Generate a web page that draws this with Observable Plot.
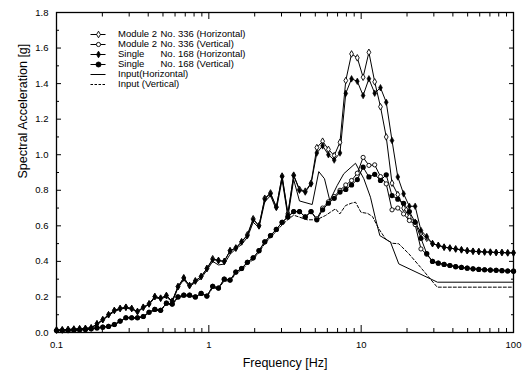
<!DOCTYPE html>
<html><head><meta charset="utf-8">
<script src="https://cdn.jsdelivr.net/npm/d3@7"></script>
<script src="https://cdn.jsdelivr.net/npm/@observablehq/plot@0.6"></script>
<style>
body{margin:0;background:#fff;}
#wrap{position:relative;width:522px;height:376px;font-family:"Liberation Sans",Arial,sans-serif;}
#legend{position:absolute;left:89px;top:28.6px;font-size:9.5px;color:#000;}
.row{height:10.1px;line-height:10.1px;white-space:nowrap;display:flex;align-items:center;}
.row svg{flex:none;display:block;}
.row .t{margin-left:11px;}
.w1{display:inline-block;width:42.5px;}
</style></head>
<body><div id="wrap"><div id="legend"></div></div>
<script>
// Frequency grid (Hz) of the marked response spectra
const freq = [0.1,0.1091,0.1191,0.1300,0.1418,0.1548,0.1689,0.1844,0.2012,0.2196,
0.2397,0.2616,0.2855,0.3116,0.3401,0.3712,0.4051,0.4421,0.4826,0.5267,
0.5748,0.6274,0.6847,0.7473,0.8156,0.8901,0.9713,1.060,1.157,1.263,
1.378,1.504,1.641,1.791,1.955,2.134,2.329,2.541,2.774,3.027,
3.304,3.606,3.936,4.295,4.688,5.117,5.584,6.095,6.652,7.260,
7.924,8.648,9.434,10.30,11.24,12.27,13.39,14.61,15.94,17.40,
18.99,20.72,22.62,24.69,26.94,29.40,32.09,35.03,38.23,41.72,
45.53,49.69,54.23,59.19,64.60,70.50,76.94,83.97,91.64,100];

const singleH = [0.014,0.015,0.017,0.019,0.021,0.023,0.026,0.049,0.072,0.100,
0.124,0.135,0.142,0.135,0.118,0.142,0.161,0.202,0.193,0.208,
0.176,0.258,0.307,0.264,0.290,0.315,0.360,0.410,0.405,0.400,
0.460,0.475,0.510,0.545,0.635,0.600,0.750,0.780,0.705,0.877,
0.664,0.883,0.800,0.790,0.836,1.010,1.050,1.000,0.970,1.010,
1.345,1.427,1.413,1.333,1.427,1.346,1.377,1.295,1.080,0.875,
0.780,0.710,0.710,0.574,0.540,0.500,0.490,0.480,0.475,0.470,
0.465,0.460,0.457,0.455,0.453,0.452,0.450,0.450,0.448,0.448];

const moduleH = [0.014,0.015,0.017,0.019,0.021,0.023,0.026,0.049,0.072,0.100,
0.124,0.135,0.142,0.135,0.118,0.142,0.161,0.202,0.193,0.208,
0.176,0.258,0.307,0.264,0.290,0.315,0.360,0.415,0.405,0.400,
0.460,0.475,0.510,0.550,0.640,0.600,0.755,0.785,0.705,0.880,
0.670,0.885,0.805,0.795,0.840,1.040,1.076,1.030,0.995,1.070,
1.417,1.567,1.545,1.436,1.576,1.410,1.270,1.100,0.840,0.776,
0.700,0.650,0.620,0.560,0.530,0.500,0.490,0.480,0.475,0.470,
0.465,0.460,0.457,0.455,0.453,0.452,0.450,0.450,0.448,0.448];

const singleV = [0.011,0.011,0.011,0.013,0.015,0.017,0.021,0.026,0.030,0.034,
0.045,0.064,0.083,0.083,0.083,0.090,0.114,0.130,0.125,0.165,
0.160,0.200,0.210,0.210,0.200,0.220,0.205,0.260,0.250,0.300,
0.295,0.340,0.360,0.395,0.420,0.460,0.510,0.545,0.580,0.620,
0.650,0.680,0.680,0.650,0.680,0.634,0.690,0.727,0.755,0.790,
0.805,0.830,0.860,0.930,0.875,0.890,0.855,0.887,0.770,0.750,
0.727,0.680,0.620,0.530,0.444,0.400,0.390,0.383,0.377,0.370,
0.366,0.362,0.358,0.355,0.353,0.351,0.350,0.348,0.346,0.345];

const moduleV = [0.011,0.011,0.011,0.013,0.015,0.017,0.021,0.026,0.030,0.034,
0.045,0.064,0.083,0.083,0.083,0.090,0.114,0.130,0.125,0.165,
0.160,0.200,0.210,0.210,0.200,0.220,0.205,0.260,0.250,0.300,
0.295,0.340,0.360,0.395,0.420,0.460,0.510,0.545,0.580,0.620,
0.650,0.680,0.680,0.650,0.680,0.640,0.700,0.735,0.765,0.800,
0.830,0.855,0.896,0.985,0.940,0.943,0.877,0.836,0.690,0.700,
0.667,0.630,0.607,0.470,0.440,0.400,0.390,0.383,0.377,0.370,
0.366,0.362,0.358,0.355,0.353,0.351,0.350,0.348,0.346,0.345];

// Input spectra (lines without markers)
const inputHFreq = [0.1,0.1091,0.1191,0.1300,0.1418,0.1548,0.1689,0.1844,0.2012,0.2196,
0.2397,0.2616,0.2855,0.3116,0.3401,0.3712,0.4051,0.4421,0.4826,0.5267,
0.5748,0.6274,0.6847,0.7473,0.8156,0.8901,0.9713,1.060,1.157,1.263,
1.378,1.504,1.641,1.791,1.955,2.134,2.329,2.541,2.774,3.027,
3.304,3.606,3.936,4.77,5.27,5.745,6.225,6.96,7.69,9.18,
10.41,11.51,12.42,13.26,15.58,17.66,31.7,100];
const inputH = [0.013,0.014,0.016,0.018,0.020,0.022,0.025,0.045,0.068,0.095,
0.118,0.130,0.138,0.130,0.115,0.138,0.158,0.195,0.190,0.200,
0.172,0.250,0.298,0.258,0.282,0.305,0.350,0.400,0.380,0.385,
0.440,0.470,0.495,0.535,0.620,0.590,0.735,0.770,0.690,0.860,
0.650,0.860,0.740,0.720,0.905,0.865,0.742,0.827,0.893,0.952,
0.865,0.761,0.640,0.545,0.508,0.386,0.283,0.283];

const inputVFreq = [0.1,0.1091,0.1191,0.1300,0.1418,0.1548,0.1689,0.1844,0.2012,0.2196,
0.2397,0.2616,0.2855,0.3116,0.3401,0.3712,0.4051,0.4421,0.4826,0.5267,
0.5748,0.6274,0.6847,0.7473,0.8156,0.8901,0.9713,1.060,1.157,1.263,
1.378,1.504,1.641,1.791,1.955,2.134,2.329,2.541,2.774,3.027,
3.304,3.606,4.42,5.09,5.83,6.785,7.24,7.895,8.605,9.18,
9.975,11.01,11.87,13.06,14.45,15.99,17.66,20.55,24.53,31.56,100];
const inputV = [0.010,0.010,0.010,0.012,0.014,0.016,0.020,0.024,0.028,0.032,
0.043,0.060,0.080,0.080,0.080,0.088,0.110,0.126,0.122,0.160,
0.156,0.195,0.205,0.205,0.196,0.215,0.200,0.252,0.245,0.292,
0.288,0.332,0.352,0.385,0.410,0.450,0.500,0.535,0.570,0.605,
0.635,0.660,0.634,0.634,0.658,0.696,0.667,0.714,0.727,0.733,
0.676,0.670,0.652,0.583,0.527,0.502,0.499,0.443,0.367,0.255,0.255];

// Ticks and labels
const xMajor = [0.1, 1, 10, 100];
const xTickLabels = ["0.1", "1", "10", "100"];
const xMinor = [0.2,0.3,0.4,0.5,0.6,0.7,0.8,0.9,2,3,4,5,6,7,8,9,20,30,40,50,60,70,80,90];
const yMajor = [0, 0.2, 0.4, 0.6, 0.8, 1.0, 1.2, 1.4, 1.6, 1.8];
const yTickLabels = ["0.0","0.2","0.4","0.6","0.8","1.0","1.2","1.4","1.6","1.8"];
const yMinor = [0.1, 0.3, 0.5, 0.7, 0.9, 1.1, 1.3, 1.5, 1.7];

const legendName = ["Module 2", "Module 2", "Single", "Single", "Input(Horizontal)", "Input (Vertical)"];
const legendDetail = ["No. 336 (Horizontal)", "No. 336 (Vertical)", "No. 168 (Horizontal)", "No. 168 (Vertical)", "", ""];

const toRows = (fs, vs) => fs.map((f, i) => ({f, v: vs[i]}));
const dSH = toRows(freq, singleH), dMH = toRows(freq, moduleH);
const dSV = toRows(freq, singleV), dMV = toRows(freq, moduleV);
const dIH = toRows(inputHFreq, inputH), dIV = toRows(inputVFreq, inputV);

const noText = () => "";
const chart = Plot.plot({
  width: 522, height: 376,
  marginLeft: 56, marginRight: 9, marginTop: 12, marginBottom: 44,
  x: {type: "log", domain: [0.1, 100]},
  y: {domain: [0, 1.8]},
  style: {fontFamily: "Liberation Sans, Arial, sans-serif", fontSize: "9.5px", color: "#000", background: "#fff"},
  marks: [
    Plot.line(dIH, {x: "f", y: "v", stroke: "#000", strokeWidth: 1}),
    Plot.line(dIV, {x: "f", y: "v", stroke: "#000", strokeWidth: 1, strokeDasharray: "3,2"}),
    Plot.line(dMH, {x: "f", y: "v", stroke: "#000", strokeWidth: 1}),
    Plot.line(dMV, {x: "f", y: "v", stroke: "#000", strokeWidth: 1}),
    Plot.line(dSH, {x: "f", y: "v", stroke: "#000", strokeWidth: 1}),
    Plot.line(dSV, {x: "f", y: "v", stroke: "#000", strokeWidth: 1}),
    Plot.dot(dMH, {x: "f", y: "v", symbol: "diamond", r: 2, fill: "#fff", stroke: "#000", strokeWidth: 0.9}),
    Plot.dot(dMV, {x: "f", y: "v", symbol: "circle", r: 2.1, fill: "#fff", stroke: "#000", strokeWidth: 0.9}),
    Plot.dot(dSH, {x: "f", y: "v", symbol: "diamond", r: 2, fill: "#000", stroke: "#000", strokeWidth: 0.6}),
    Plot.dot(dSV, {x: "f", y: "v", symbol: "circle", r: 2.6, fill: "#000"}),
    Plot.frame({stroke: "#000", strokeWidth: 1.3}),
    Plot.axisY({ticks: yMajor, anchor: "left", tickSize: -5, tickPadding: 13, tickFormat: d => yTickLabels[yMajor.indexOf(d)], label: null}),
    Plot.axisY({ticks: yMinor, anchor: "left", tickSize: -3, tickFormat: noText, label: null}),
    Plot.axisY({ticks: yMajor, anchor: "right", tickSize: -5, tickFormat: noText, label: null}),
    Plot.axisY({ticks: yMinor, anchor: "right", tickSize: -3, tickFormat: noText, label: null}),
    Plot.axisX({ticks: xMajor, anchor: "bottom", tickSize: -7, tickPadding: 16, tickFormat: d => xTickLabels[xMajor.indexOf(d)], label: null}),
    Plot.axisX({ticks: xMinor, anchor: "bottom", tickSize: -4, tickFormat: noText, label: null}),
    Plot.axisX({ticks: xMajor, anchor: "top", tickSize: -6, tickFormat: noText, label: null}),
    Plot.axisX({ticks: xMinor, anchor: "top", tickSize: -3.5, tickFormat: noText, label: null}),
    Plot.text(["Frequency [Hz]"], {text: d => d, frameAnchor: "bottom", dy: 34, fontSize: 12.5}),
    Plot.text(["Spectral Acceleration [g]"], {text: d => d, frameAnchor: "left", dx: -34, dy: 6, rotate: -90, fontSize: 12.5})
  ]
});
const wrap = document.getElementById("wrap");
wrap.insertBefore(chart, wrap.firstChild);

// Legend inside the plot area (HTML overlay)
const legendStyle = [
  {symbol: d3.symbolDiamond, r: 2, fill: "#fff", dash: null},
  {symbol: d3.symbolCircle, r: 2.1, fill: "#fff", dash: null},
  {symbol: d3.symbolDiamond, r: 2, fill: "#000", dash: null},
  {symbol: d3.symbolCircle, r: 2.5, fill: "#000", dash: null},
  {symbol: null, dash: null},
  {symbol: null, dash: "2.5,1.5"}
];
const leg = d3.select("#legend");
legendName.forEach((name, i) => {
  const st = legendStyle[i];
  const row = leg.append("div").attr("class", "row");
  const svg = row.append("svg").attr("width", 18).attr("height", 10);
  svg.append("line").attr("x1", 1.5).attr("x2", 16.5).attr("y1", 5.5).attr("y2", 5.5)
    .attr("stroke", "#000").attr("stroke-width", 1).attr("stroke-dasharray", st.dash);
  if (st.symbol) {
    svg.append("path").attr("transform", "translate(9.5,5.5)")
      .attr("d", d3.symbol(st.symbol, st.r * st.r * Math.PI)())
      .attr("fill", st.fill).attr("stroke", "#000").attr("stroke-width", 0.9);
  }
  const t = row.append("span").attr("class", "t");
  if (legendDetail[i]) {
    t.append("span").attr("class", "w1").text(name);
    t.append("span").text(legendDetail[i]);
  } else {
    t.text(name);
  }
});
</script>
</body></html>
